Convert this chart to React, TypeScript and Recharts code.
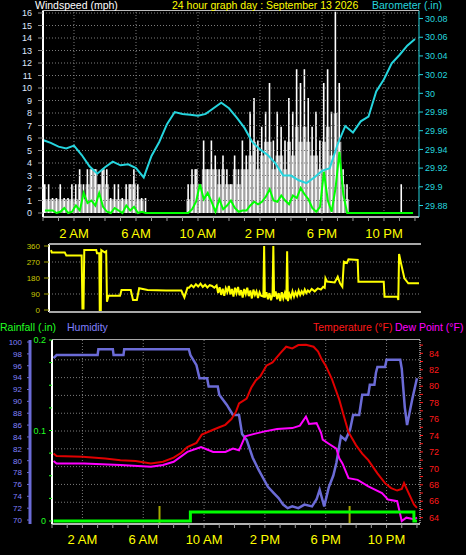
import React from "react";
import { ComposedChart, Line, Bar, Area, XAxis, YAxis, ReferenceLine } from "recharts";

const FONT = "'Liberation Sans', Arial, sans-serif";

// time axis (hours of the day)
const HOURS = [0, 1, 2, 3, 4, 5, 6, 7, 8, 9, 10, 11, 12, 13, 14, 15, 16, 17, 18, 19, 20, 21, 22, 23, 24];
const HOUR_TICKS = [2, 6, 10, 14, 18, 22];
const HOUR_LABELS = ["2 AM", "6 AM", "10 AM", "2 PM", "6 PM", "10 PM"];

// windspeed, 15 minute bins (mph)
const WIND_GUST = [
  2.3, 2.3, 1.2, 1.2, 2.3, 1.2, 1.2, 2.3, 2.3,
  3.5, 2.3, 3.5, 3.5, 3.5, 2.3, 3.5, 3.5,
  1.2, 2.3, 2.3, 1.2, 2.3, 2.3, 3.5, 2.3,
  1.2, 1.2,
  0, 0, 0, 0, 0, 0, 0, 0, 0, 0,
  2.3, 3.5, 3.5, 2.3,
  5.8, 3.5, 5.8, 4.6,
  3.5, 4.6, 3.5, 2.3, 4.6, 3.5,
  5.8, 4.6, 8.1, 9.2, 5.8, 6.9, 8.1, 10.4, 5.8, 8.1, 6.9, 5.8, 9.2, 8.1, 11.5, 10.4, 11.5, 9.2, 6.9, 8.1, 5.8, 10.4, 11.5, 8.1, 16.1, 10.4, 3.5, 2.3,
  0, 0, 0, 0, 0, 0, 0, 0, 0, 0, 0, 0, 0,
  2.3, 0, 0, 0,
];
const WIND_SPEED = [
  1.1, 1.1, 1.1, 1.1, 1.1, 1.1, 1.1, 1.1, 1.1,
  2.3, 1.1, 2.3, 3.5, 3.5, 2.3, 3.5, 2.3,
  1.1, 1.1, 1.1, 1.1, 1.1, 2.3, 2.3, 1.1,
  1.1, 0,
  0, 0, 0, 0, 0, 0, 0, 0, 0, 0,
  1.1, 2.3, 3.5, 2.3,
  3.5, 3.5, 3.5, 3.5,
  2.3, 3.5, 2.3, 2.3, 3.5, 2.3,
  3.5, 3.5, 4.6, 5.7, 3.5, 4.6, 5.7, 5.7, 3.5, 4.6, 4.6, 3.5, 5.7, 4.6, 6.9, 5.7, 6.9, 5.7, 4.6, 4.6, 3.5, 5.7, 6.9, 4.6, 8.0, 5.7, 2.3, 1.1,
  0, 0, 0, 0, 0, 0, 0, 0, 0, 0, 0, 0, 0,
  0, 0, 0, 0,
];
const WIND_AVG = [
  0.2, 0.2, 0.2, 0.0, 0.1, 0.4, 0.0, 0.1, 0.6,
  0.2, 1.6, 0.8, 1.0, 0.6, 1.6, 0.5, 0.1,
  0.0, 0.4, 0.2, 0.0, 0.6, 0.2, 0.5, 0.0,
  0.1, 0,
  0, 0, 0, 0, 0, 0, 0, 0, 0, 0,
  0.0, 0.3, 0.9, 2.3,
  1.1, 1.6, 0.9, 0.1,
  1.1, 0.3, 0.6, 1.0, 0.4, 0.1,
  0.2, 0.2, 0.6, 0.9, 0.7, 0.9, 1.3, 1.9, 1.0, 0.9, 1.4, 1.0, 0.7, 1.4, 1.2, 2.0, 1.5, 1.1, 0.4, 0.1, 0.5, 3.3, 1.0, 0.1, 2.0, 4.9, 1.5, 0.0,
  0, 0, 0, 0, 0, 0, 0, 0, 0, 0, 0, 0, 0,
  0, 0, 0, 0,
];
const WIND_TICKS = [0, 1, 2, 3, 4, 5, 6, 7, 8, 9, 10, 11, 12, 13, 14, 15, 16];

// barometer every 30 minutes (in)
const BARO = [
  29.950, 29.947, 29.943, 29.941, 29.944, 29.934, 29.922, 29.914, 29.921, 29.927,
  29.923, 29.924, 29.920, 29.910, 29.933, 29.948, 29.967, 29.980, 29.978, 29.977,
  29.976, 29.978, 29.984, 29.990, 29.984, 29.974, 29.963, 29.948, 29.940, 29.934,
  29.925, 29.912, 29.912, 29.907, 29.904, 29.910, 29.917, 29.920, 29.945, 29.965,
  29.958, 29.970, 29.975, 30.002, 30.015, 30.032, 30.041, 30.051, 30.058,
];
const BARO_TICKS = [29.88, 29.9, 29.92, 29.94, 29.96, 29.98, 30, 30.02, 30.04, 30.06, 30.08];

// wind direction (degrees)
const DIR_TIME = [
  0, 0.05, 0.9, 1.0, 2.0, 2.05, 2.12, 2.17, 2.95, 3.0, 3.15, 3.18, 3.25, 3.28, 3.5, 3.6, 3.65, 3.75,
  4.5, 4.6, 5.2, 5.35, 5.6, 5.75, 6.3, 7.5, 8.5, 8.7, 8.9,
  9.0, 9.15, 9.3, 9.45, 9.6, 9.75, 9.9, 10.05, 10.2, 10.35, 10.5, 10.65, 10.8, 10.9,
  11.0, 11.1, 11.2, 11.3, 11.4, 11.5, 11.6, 11.7, 11.8, 11.9, 12.0, 12.1, 12.2, 12.3, 12.4, 12.5,
  12.6, 12.7, 12.8, 12.9, 13.0, 13.1, 13.2, 13.3, 13.4, 13.5, 13.6, 13.7, 13.85, 13.9, 13.95,
  14.05, 14.15, 14.25, 14.35, 14.45, 14.5, 14.55, 14.65, 14.75, 14.85, 14.95, 15.05, 15.15, 15.25,
  15.35, 15.4, 15.45, 15.55, 15.65, 15.75, 15.85, 15.95, 16.05, 16.15, 16.25, 16.35, 16.45, 16.55,
  16.65, 16.75, 16.85, 17.0, 17.2, 17.4, 17.6, 17.75, 17.85,
  17.9, 18.0, 18.5, 18.7, 18.85, 19.0, 19.1, 19.3, 19.4, 20.0, 20.05, 21.7, 21.75, 22.6, 22.65,
  22.7, 22.85, 23.05, 23.3, 24.0,
];
const DIR_DEG = [
  337, 324, 324, 306, 306, 9, 9, 337, 337, 319, 319, 0, 0, 337, 324, 330, 47, 80,
  80, 112, 112, 56, 56, 122, 112, 109, 109, 71, 125,
  125, 140, 128, 145, 132, 148, 130, 142, 127, 140, 135, 125, 138, 95,
  128, 85, 120, 80, 122, 100, 135, 88, 118, 75, 125, 95, 130, 82, 112, 70,
  118, 90, 125, 78, 110, 65, 115, 85, 105, 68, 100, 80, 75, 360, 70,
  100, 60, 95, 55, 90, 360, 75, 105, 60, 95, 50, 100, 65, 95,
  60, 330, 50, 90, 70, 105, 75, 100, 80, 110, 85, 105, 90, 115,
  95, 110, 100, 118, 105, 122, 115, 130, 125,
  178, 160, 155, 187, 150, 131, 272, 265, 285, 281, 159, 159, 75, 75, 56,
  315, 253, 178, 150, 150,
];
const DIR_TICKS = [0, 90, 180, 270, 360];
const COMPASS = ["S", "W", "N", "E", "S"];

// humidity (%)
const HUM_TIME = [
  0.1, 0.3, 3.0, 3.05, 4.0, 4.05, 4.7, 4.75, 9.0, 9.1, 9.5, 9.7, 10.2, 10.3, 10.9, 11.0, 11.5, 11.9,
  12.3, 12.5, 12.8, 13.2, 13.6, 13.9, 14.2, 14.6, 14.9, 15.2, 15.5, 15.8, 16.2, 16.6, 17.1, 17.4,
  17.6, 17.9, 18.2, 18.5, 18.7, 19.0, 19.3, 19.6, 19.8, 20.2, 20.4, 20.8, 20.9, 21.2, 21.3, 21.4,
  21.9, 22.0, 22.9, 23.0, 23.2, 23.35, 23.7, 24.0,
];
const HUM = [
  97.3, 97.8, 97.8, 98.8, 98.8, 97.8, 97.8, 98.8, 98.8, 97.8, 96.1, 93.9, 93.9, 92.5, 92.5, 91.1, 89.4, 87.7,
  87.7, 84.5, 83.5, 80.5, 78.4, 77.0, 75.6, 74.5, 73.7, 72.6, 72.0, 72.3, 72.0, 72.6, 72.3, 73.5,
  75.1, 72.3, 75.5, 77.5, 79.6, 84.1, 83.5, 85.2, 87.7, 87.7, 91.1, 91.1, 92.8, 92.8, 94.8, 95.8,
  95.8, 97.0, 97.0, 95.5, 89.0, 86.0, 90.5, 93.9,
];
const HUM_TICKS = [70, 72, 74, 76, 78, 80, 82, 84, 86, 88, 90, 92, 94, 96, 98, 100];
const HUM_GRID = [73, 76, 79, 82, 85, 88, 91, 94, 97];

// temperature (F)
const TEMP_TIME = [
  0.1, 0.3, 2.0, 3.5, 4.5, 5.5, 6.5, 7.3, 8.0, 8.5, 8.9, 9.5, 9.85, 10.6, 11.0, 11.4, 11.8, 12.1,
  12.3, 12.8, 13.1, 13.4, 13.7, 14.1, 14.5, 15.0, 15.4, 15.8, 16.2, 16.7, 17.2, 17.5, 17.7, 18.0,
  18.4, 18.9, 19.2, 19.5, 20.0, 20.4, 20.8, 21.4, 21.9, 22.3, 22.7, 23.0, 23.15, 23.4, 23.8, 24.0,
];
const TEMP = [
  71.8, 71.5, 71.4, 71.2, 71.0, 70.9, 70.6, 70.8, 71.3, 71.9, 72.6, 73.1, 74.1, 74.7, 75.0, 75.3, 76.0, 76.9,
  77.9, 78.5, 79.8, 80.7, 81.2, 82.5, 82.9, 84.0, 84.8, 84.6, 85.0, 85.05, 84.8, 84.2, 83.4, 82.5,
  80.9, 78.3, 76.3, 74.4, 72.8, 71.8, 71.0, 69.4, 68.2, 67.6, 67.3, 67.5, 68.2, 67.2, 65.6, 65.2,
];
const TEMP_TICKS = [64, 65, 66, 67, 68, 69, 70, 71, 72, 73, 74, 75, 76, 77, 78, 79, 80, 81, 82, 83, 84, 85];

// dew point (F)
const DEW_TIME = [
  0.1, 0.3, 2.1, 4.5, 6.5, 7.3, 8.0, 8.9, 9.8, 10.2, 10.6, 11.4, 11.9, 12.3, 12.7, 13.3, 14.0, 14.8,
  15.8, 16.3, 16.7, 16.9, 17.4, 17.7, 17.8, 18.2, 18.7, 18.9, 19.1, 19.5, 20.1, 20.8, 21.7, 22.1,
  22.7, 23.0, 23.3, 23.8, 24.0,
];
const DEW = [
  70.9, 70.6, 70.6, 70.4, 70.2, 70.4, 70.8, 72.0, 72.6, 72.3, 72.0, 72.0, 72.4, 72.2, 73.9, 74.2, 74.5, 74.8,
  74.9, 75.2, 76.3, 75.4, 75.5, 74.3, 73.5, 73.0, 72.4, 71.2, 70.6, 68.8, 68.6, 67.8, 67.0, 66.2,
  66.0, 63.6, 64.0, 63.8, 64.0,
];

// rainfall (in)
const RAIN_TIME = [0.1, 9.1, 23.8, 24.0];
const RAIN = [0, 0.01, 0, 0];
const RAIN_TICKS = [0, 0.025, 0.05, 0.075, 0.1, 0.125, 0.15, 0.175, 0.2];
const MARKER_TIMES = [7.07, 19.57];

const hourLabel = (v: number) => {
  const i = HOUR_TICKS.indexOf(v);
  return i >= 0 ? HOUR_LABELS[i] : "";
};

const windRows = WIND_GUST.map((g, i) => ({
  t: (i + 0.5) / 4,
  gust: g,
  speed: WIND_SPEED[i],
  avg: WIND_AVG[i],
}));
const baroRows = BARO.map((b, i) => ({ t: i / 2, baro: b }));
const dirRows = DIR_TIME.map((t, i) => ({ t, deg: DIR_DEG[i] }));
const humRows = HUM_TIME.map((t, i) => ({ t, v: HUM[i] }));
const tempRows = TEMP_TIME.map((t, i) => ({ t, v: TEMP[i] }));
const dewRows = DEW_TIME.map((t, i) => ({ t, v: DEW[i] }));
const rainRows = RAIN_TIME.map((t, i) => ({ t, v: RAIN[i] }));

const GRID = { stroke: "#7c7c7c", strokeDasharray: "1 2" };

// left axes of the lower panel: "a" sits next to the plot, "b" outside it
const RAIN_AXIS = "a";
const HUM_AXIS = "b";

function Caption({ x, y, color, text }: { x: number; y: number; color: string; text: string }) {
  return (
    <div
      style={{
        position: "absolute",
        left: x,
        top: y,
        color,
        fontSize: 10.5,
        lineHeight: "11px",
        fontFamily: FONT,
        whiteSpace: "nowrap",
      }}
    >
      {text}
    </div>
  );
}

function Rule({ x, y, w, h, color }: { x: number; y: number; w: number; h: number; color: string }) {
  return <div style={{ position: "absolute", left: x, top: y, width: w, height: h, background: color }} />;
}

export default function App() {
  return (
    <div
      style={{
        position: "absolute",
        left: 0,
        top: 0,
        width: 466,
        height: 555,
        background: "#000",
        overflow: "hidden",
        fontFamily: FONT,
      }}
    >
      {/* wind speed + barometer */}
      <div style={{ position: "absolute", left: 0, top: 0 }}>
        <ComposedChart width={466} height={250} data={windRows} margin={{ top: 10.5, right: 0, bottom: 0, left: 0 }}>
          <XAxis
            type="number"
            dataKey="t"
            domain={[0, 24.26]}
            ticks={HOURS}
            interval={0}
            tickFormatter={hourLabel}
            allowDataOverflow
            height={33}
            tickSize={4}
            tickMargin={8}
            tick={{ fill: "#ffff00", fontSize: 13, fontFamily: FONT }}
            tickLine={{ stroke: "#9a9a9a" }}
            axisLine={{ stroke: "#b4b4b4", strokeWidth: 2 }}
          />
          <YAxis
            yAxisId="wind"
            domain={[-0.32, 16.2]}
            ticks={WIND_TICKS}
            interval={0}
            allowDataOverflow
            width={43}
            tickSize={5}
            tickMargin={6}
            tick={{ fill: "#dfe6ff", fontSize: 9, fontFamily: FONT }}
            tickLine={{ stroke: "#8a8a8a" }}
            axisLine={{ stroke: "#ffffff", strokeWidth: 2 }}
          />
          <YAxis
            yAxisId="baro"
            orientation="right"
            domain={[29.8677, 30.0886]}
            ticks={BARO_TICKS}
            interval={0}
            allowDataOverflow
            width={47}
            tickSize={4}
            tickMargin={2}
            tickFormatter={(v: number) => String(Math.round(v * 100) / 100)}
            tick={{ fill: "#25d5de", fontSize: 9, fontFamily: FONT }}
            tickLine={{ stroke: "#25d5de" }}
            axisLine={{ stroke: "#25d5de" }}
          />
          {HOUR_TICKS.map((h) => (
            <ReferenceLine key={"v" + h} yAxisId="wind" x={h} {...GRID} />
          ))}
          {WIND_TICKS.slice(1).map((w) => (
            <ReferenceLine key={"h" + w} yAxisId="wind" y={w} {...GRID} />
          ))}
          <Area
            yAxisId="wind"
            dataKey="speed"
            type="step"
            fill="#a4a4a4"
            fillOpacity={1}
            stroke="none"
            isAnimationActive={false}
          />
          <Bar yAxisId="wind" dataKey="gust" fill="#ffffff" barSize={1.6} isAnimationActive={false} />
          <Line
            yAxisId="wind"
            dataKey="avg"
            stroke="#00ff00"
            strokeWidth={2}
            dot={false}
            isAnimationActive={false}
          />
          <Line
            yAxisId="baro"
            data={baroRows}
            dataKey="baro"
            stroke="#25d5de"
            strokeWidth={2}
            dot={false}
            isAnimationActive={false}
          />
        </ComposedChart>
      </div>

      {/* wind direction */}
      <div style={{ position: "absolute", left: 0, top: 240 }}>
        <ComposedChart width={466} height={80} data={dirRows} margin={{ top: 4, right: 0, bottom: 8, left: 0 }}>
          <XAxis type="number" dataKey="t" domain={[-0.13, 24.13]} allowDataOverflow hide />
          <YAxis
            yAxisId="deg"
            domain={[-11.25, 371.25]}
            ticks={DIR_TICKS}
            interval={0}
            allowDataOverflow
            width={49}
            tickSize={5}
            tickMargin={4}
            tick={{ fill: "#c8c800", fontSize: 8, fontFamily: FONT }}
            tickLine={{ stroke: "#a0a000" }}
            axisLine={{ stroke: "#ffffff", strokeWidth: 2 }}
          />
          <YAxis
            yAxisId="compass"
            orientation="right"
            domain={[-11.25, 371.25]}
            ticks={DIR_TICKS}
            interval={0}
            width={45}
            tickSize={0}
            tickMargin={12}
            tickFormatter={(v: number) => COMPASS[DIR_TICKS.indexOf(v)]}
            tick={{ fill: "#ffff00", fontSize: 12, fontFamily: FONT }}
            tickLine={false}
            axisLine={false}
          />
          {DIR_TICKS.slice(1, 4).map((d) => (
            <ReferenceLine key={d} yAxisId="deg" y={d} {...GRID} />
          ))}
          <Line
            yAxisId="deg"
            dataKey="deg"
            stroke="#ffff00"
            strokeWidth={2}
            dot={false}
            isAnimationActive={false}
          />
        </ComposedChart>
      </div>

      {/* humidity, temperature, dew point, rain */}
      <div style={{ position: "absolute", left: 0, top: 330 }}>
        <ComposedChart width={466} height={225} margin={{ top: 10, right: 0, bottom: 0, left: 0 }}>
          <XAxis
            type="number"
            dataKey="t"
            domain={[0, 24.2]}
            ticks={HOURS}
            interval={0}
            tickFormatter={hourLabel}
            allowDataOverflow
            height={31}
            tickSize={4}
            tickMargin={7}
            tick={{ fill: "#ffff00", fontSize: 13, fontFamily: FONT }}
            tickLine={{ stroke: "#9a9a9a" }}
            axisLine={{ stroke: "#b4b4b4", strokeWidth: 2 }}
          />
          <YAxis
            yAxisId={RAIN_AXIS}
            domain={[-0.0033, 0.2]}
            ticks={RAIN_TICKS}
            interval={0}
            allowDataOverflow
            width={22}
            tickSize={3}
            tickMargin={3}
            tickFormatter={(v: number) => (v === 0 ? "0" : v === 0.1 ? "0.1" : v === 0.2 ? "0.2" : "")}
            tick={{ fill: "#22ff22", fontSize: 9, fontFamily: FONT }}
            tickLine={{ stroke: "#22ff22" }}
            axisLine={{ stroke: "#ffffff", strokeWidth: 2 }}
          />
          <YAxis
            yAxisId={HUM_AXIS}
            domain={[69.33, 100.34]}
            ticks={HUM_TICKS}
            interval={0}
            allowDataOverflow
            width={30}
            tickSize={3}
            tickMargin={5}
            tick={{ fill: "#8080ff", fontSize: 8, fontFamily: FONT }}
            tickLine={{ stroke: "#6b6bd6" }}
            axisLine={{ stroke: "#6b6bd6", strokeWidth: 3 }}
          />
          <YAxis
            yAxisId="temp"
            orientation="right"
            domain={[63.23, 85.62]}
            ticks={TEMP_TICKS}
            interval={0}
            allowDataOverflow
            width={46}
            tickSize={3}
            tickMargin={6}
            tickFormatter={(v: number) => (v % 2 === 0 ? String(v) : "")}
            tick={{ fill: "#ff1a1a", fontSize: 9, fontFamily: FONT }}
            tickLine={{ stroke: "#ff1a1a" }}
            axisLine={{ stroke: "#ffffff", strokeDasharray: "1 1" }}
          />
          {HOUR_TICKS.map((h) => (
            <ReferenceLine key={"v" + h} yAxisId={HUM_AXIS} x={h} {...GRID} />
          ))}
          {HUM_GRID.map((g) => (
            <ReferenceLine key={"h" + g} yAxisId={HUM_AXIS} y={g} {...GRID} />
          ))}
          {MARKER_TIMES.map((m) => (
            <ReferenceLine
              key={"m" + m}
              yAxisId={RAIN_AXIS}
              segment={[
                { x: m, y: -0.0033 },
                { x: m, y: 0.0166 },
              ]}
              stroke="#a8a800"
              strokeWidth={2}
            />
          ))}
          <Line
            yAxisId={HUM_AXIS}
            data={humRows}
            dataKey="v"
            stroke="#6b6bd6"
            strokeWidth={2.5}
            dot={false}
            isAnimationActive={false}
          />
          <Line
            yAxisId="temp"
            data={tempRows}
            dataKey="v"
            stroke="#e00000"
            strokeWidth={2}
            dot={false}
            isAnimationActive={false}
          />
          <Line
            yAxisId="temp"
            data={dewRows}
            dataKey="v"
            stroke="#ff00ff"
            strokeWidth={2}
            dot={false}
            isAnimationActive={false}
          />
          <Line
            yAxisId={RAIN_AXIS}
            data={rainRows}
            dataKey="v"
            type="stepAfter"
            stroke="#00ff00"
            strokeWidth={3}
            dot={false}
            isAnimationActive={false}
          />
        </ComposedChart>
      </div>

      {/* frame lines */}
      <Rule x={43} y={10} w={376} h={1} color="#bdbdbd" />
      <Rule x={49} y={243} w={372} h={2} color="#a8a8a8" />
      <Rule x={49} y={311} w={372} h={2} color="#a8a8a8" />
      <Rule x={52} y={339} w={368} h={1} color="#a8a8a8" />

      {/* captions */}
      <Caption x={35} y={0} color="#ffffff" text="Windspeed (mph)" />
      <Caption x={172} y={0} color="#ffff00" text="24 hour graph day : September 13 2026" />
      <Caption x={372} y={0} color="#25d5de" text="Barometer (.in)" />
      <Caption x={0} y={322} color="#22ff22" text="Rainfall (.in)" />
      <Caption x={67} y={322} color="#8080ff" text="Humidity" />
      <Caption x={313} y={322} color="#ff1a1a" text="Temperature (°F)" />
      <Caption x={395} y={322} color="#ff00ff" text="Dew Point (°F)" />
    </div>
  );
}
